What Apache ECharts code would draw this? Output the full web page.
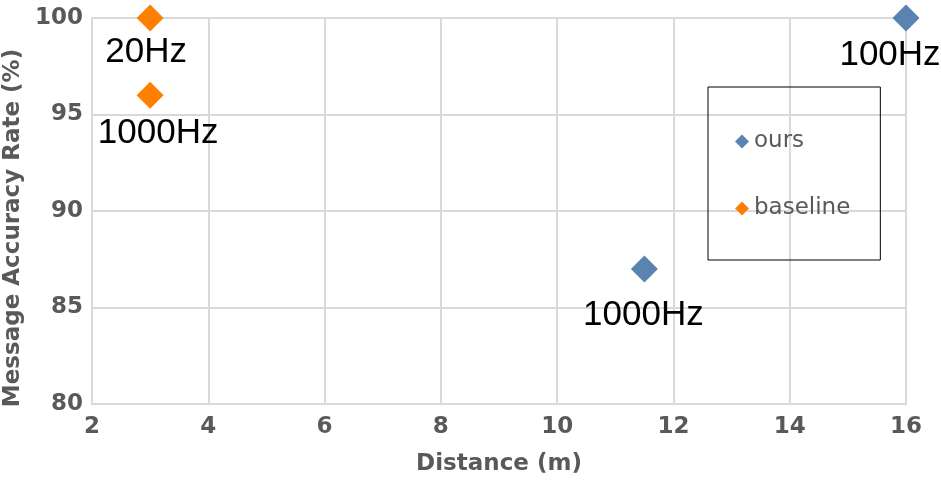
<!DOCTYPE html>
<html>
<head>
<meta charset="utf-8">
<script src="https://cdn.jsdelivr.net/npm/echarts@6/dist/echarts.min.js"></script>
<style>html,body{margin:0;padding:0;background:#fff}#c{width:941px;height:480px}</style>
</head>
<body>
<div id="c"></div>
<script>
var seriesNames = ['ours', 'baseline'];
var oursX = [11.5, 16];
var oursY = [87, 100];
var oursLabels = ['1000Hz', '100Hz'];
var baseX = [3, 3];
var baseY = [100, 96];
var baseLabels = ['20Hz', '1000Hz'];
var xTicks = [2, 4, 6, 8, 10, 12, 14, 16];
var yTicks = [80, 85, 90, 95, 100];

var colors = ['#5983b0', '#ff8000'];
var oursLabelOffsets = [[-1, 46], [-16, 37]];
var baseLabelOffsets = [[-4, 34], [8, 38]];

var tickFont = '"DejaVu Sans", sans-serif';
var labelFont = '"Liberation Sans", sans-serif';

function build(xs, ys, labels, offsets) {
  return xs.map(function (x, i) {
    return {
      value: [x, ys[i]],
      label: { show: true, formatter: labels[i], position: 'inside', offset: offsets[i] }
    };
  });
}

var chart = echarts.init(document.getElementById('c'), null, { renderer: 'canvas' });
chart.setOption({
  animation: false,
  backgroundColor: '#fff',
  grid: { left: 92, right: 35, top: 18, bottom: 76, containLabel: false, outerBoundsMode: 'none' },
  legend: {
    orient: 'vertical',
    left: 708, top: 87,
    padding: [43, 30, 40, 27],
    itemGap: 44,
    itemWidth: 14, itemHeight: 14,
    borderColor: '#000', borderWidth: 1,
    icon: 'diamond',
    textStyle: { color: '#595959', fontSize: 23, fontFamily: '"DejaVu Sans", sans-serif', lineHeight: 20 },
    data: seriesNames
  },
  xAxis: {
    type: 'value', min: xTicks[0], max: xTicks[xTicks.length - 1], interval: 2,
    name: 'Distance (m)', nameLocation: 'middle', nameGap: 49,
    nameTextStyle: { color: '#595959', fontSize: 23, fontWeight: 'bold', fontFamily: tickFont },
    axisLine: { show: true, lineStyle: { color: '#d9d9d9', width: 2 } },
    axisTick: { show: false },
    axisLabel: { color: '#595959', fontSize: 23, fontWeight: 'bold', fontFamily: tickFont, margin: 12 },
    splitLine: { show: true, lineStyle: { color: '#d9d9d9', width: 2 } }
  },
  yAxis: {
    type: 'value', min: yTicks[0], max: yTicks[yTicks.length - 1], interval: 5,
    name: 'Message Accuracy Rate (%)', nameLocation: 'middle', nameGap: 59, nameRotate: 90,
    nameTextStyle: { color: '#595959', fontSize: 23, fontWeight: 'bold', fontFamily: tickFont, padding: [0, 34, 0, 0] },
    axisLine: { show: true, lineStyle: { color: '#d9d9d9', width: 2 } },
    axisTick: { show: false },
    axisLabel: { color: '#595959', fontSize: 23, fontWeight: 'bold', fontFamily: tickFont, margin: 9 },
    splitLine: { show: true, lineStyle: { color: '#d9d9d9', width: 2 } }
  },
  series: [
    {
      name: seriesNames[0], type: 'scatter', symbol: 'diamond', symbolSize: 27,
      itemStyle: { color: colors[0], opacity: 1 },
      label: { color: '#000', fontSize: 35, fontFamily: labelFont },
      data: build(oursX, oursY, oursLabels, oursLabelOffsets)
    },
    {
      name: seriesNames[1], type: 'scatter', symbol: 'diamond', symbolSize: 27,
      itemStyle: { color: colors[1], opacity: 1 },
      label: { color: '#000', fontSize: 35, fontFamily: labelFont },
      data: build(baseX, baseY, baseLabels, baseLabelOffsets)
    }
  ]
});
</script>
</body>
</html>
